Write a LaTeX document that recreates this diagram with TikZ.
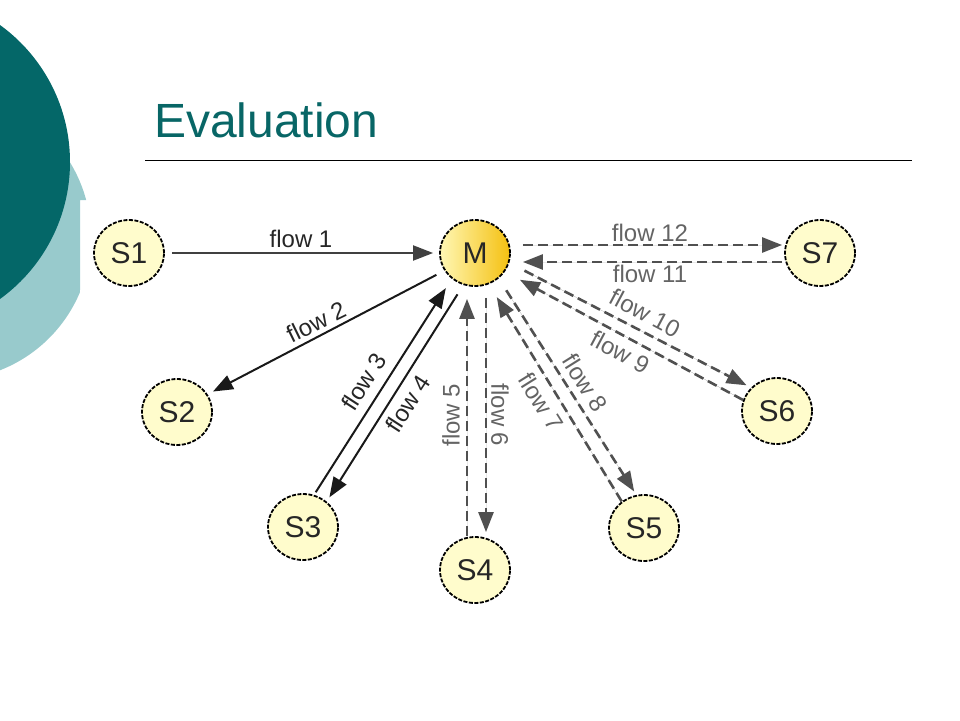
\documentclass[tikz,border=0pt]{standalone}
\usepackage{fontspec}
\setmainfont{Liberation Sans}
\usetikzlibrary{shapes.geometric,arrows.meta}
\definecolor{tealdark}{RGB}{4,103,104}
\definecolor{teallight}{RGB}{152,202,204}
\definecolor{titlec}{RGB}{8,102,102}
\definecolor{nodefill}{RGB}{255,252,204}
\definecolor{mleft}{RGB}{255,247,180}
\definecolor{mright}{RGB}{244,192,16}
\definecolor{dgray}{RGB}{80,80,80}
\definecolor{lgray}{RGB}{100,100,100}
\begin{document}
\begin{tikzpicture}[x=1pt,y=-1pt,
  station/.style={ellipse, draw=black, line width=1.8pt, dash pattern=on 4pt off 1.5pt,
    minimum width=70pt, minimum height=66pt, inner sep=0pt, fill=nodefill,
    font=\fontsize{30}{32}\selectfont, text=black!85},
  tipstyle/.style={-{Triangle[length=20pt,width=15pt]}},
  solidflow/.style={tipstyle, line width=2pt, draw=black!90, fill=black!90},
  dashflow/.style={tipstyle, line width=2.6pt, draw=dgray, fill=dgray, dash pattern=on 10pt off 5pt},
  flowlabel/.style={font=\fontsize{24}{26}\selectfont, inner sep=0pt, text=black!85},
  graylabel/.style={flowlabel, text=lgray}]
\useasboundingbox (0,0) rectangle (960,720);
% background decoration
\begin{scope}
  \clip (0,0) rectangle (960,720);
  \begin{scope}
    \clip (0,0) -- (100,0) -- (100,200) -- (80,200) -- (80,720) -- (0,720) -- cycle;
    \fill[teallight] (-52,237) circle[radius=143];
  \end{scope}
  \fill[tealdark] (-99,162) circle[radius=169];
\end{scope}
% title
\node[anchor=base west, font=\fontsize{48}{56}\selectfont, text=titlec, inner sep=0pt] (title) at (154,137) {Evaluation};
\draw[line width=1pt] (145,160) -- (912,160);
% stations
\node[station] (S1) at (129,253) {S1};
\node[station, left color=mleft, right color=mright] (M) at (475,253) {M};
\node[station] (S7) at (820,253) {S7};
\node[station] (S2) at (177,412) {S2};
\node[station] (S3) at (303,527) {S3};
\node[station] (S4) at (475,570) {S4};
\node[station] (S5) at (644,528) {S5};
\node[station] (S6) at (777,411) {S6};
% flows
\draw[solidflow, draw=black!75, fill=black!75, shorten <=7pt, shorten >=6pt] (S1.east) -- (M.west);
\draw[solidflow, shorten <=9pt, shorten >=6pt] (M.-150) -- (S2.30);
\draw[solidflow, shorten <=3pt, shorten >=11pt] (S3.71) -- (M.-132);
\draw[solidflow, shorten <=11pt, shorten >=5pt] (M.-110) -- (S3.47);
\draw[dashflow, shorten >=12pt] ([xshift=-8pt]S4.north) -- ([xshift=-8pt]M.south);
\draw[dashflow, shorten <=11pt, shorten >=4pt] ([xshift=11pt]M.south) -- ([xshift=11pt]S4.north);
\draw[dashflow, shorten >=15pt] (S5.130) -- (M.-66);
\draw[dashflow, shorten <=14pt, shorten >=4pt] (M.-47) -- (S5.103);
\draw[dashflow, shorten >=17pt] (S6.162) -- (M.-32);
\draw[dashflow, shorten <=17pt, shorten >=5pt] (M.-16) -- (S6.138);
\draw[dashflow, shorten <=12pt, shorten >=2pt] ([yshift=8pt]M.east) -- ([yshift=8pt]S7.west);
\draw[dashflow, shorten <=2pt, shorten >=12pt] ([yshift=-9pt]S7.west) -- ([yshift=-9pt]M.east);
% labels
\node[flowlabel] (l1) at (301,239) {flow 1};
\node[flowlabel, rotate=26] (l2) at (316,322) {flow 2};
\node[flowlabel, rotate=57] (l3) at (364,382) {flow 3};
\node[flowlabel, rotate=57] (l4) at (408,404) {flow 4};
\node[graylabel, rotate=90] (l5) at (451,415) {flow 5};
\node[graylabel, rotate=-90] (l6) at (500,415) {flow 6};
\node[graylabel, rotate=-58] (l7) at (541,402) {flow 7};
\node[graylabel, rotate=-58] (l8) at (585,383) {flow 8};
\node[graylabel, rotate=-28] (l9) at (620,352) {flow 9};
\node[graylabel, rotate=-28] (l10) at (645,313) {flow 10};
\node[graylabel] (l12) at (650,233) {flow 12};
\node[graylabel] (l11) at (650,274) {flow 11};
\end{tikzpicture}
\end{document}
